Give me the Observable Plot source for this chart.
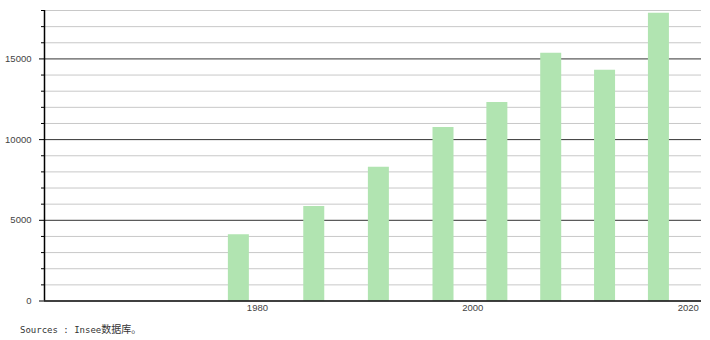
<!DOCTYPE html>
<html>
<head>
<meta charset="utf-8">
<script src="https://cdn.jsdelivr.net/npm/d3@7"></script>
<script src="https://cdn.jsdelivr.net/npm/@observablehq/plot@0.6"></script>
<style>
  body { margin: 0; background: #fff; }
  #caption { font-family: "DejaVu Sans Mono", "Liberation Mono", monospace; font-size: 9px; color: #333; margin: 5px 0 0 20px; line-height: 12px; }
  #caption .cjk { font-family: "Noto Sans CJK SC", sans-serif; font-size: 10px; }
</style>
</head>
<body>
<div id="chart"></div>
<div id="caption">Sources : Insee<span class="cjk">数据库。</span></div>
<script>
const years = [1978, 1985, 1991, 1997, 2002, 2007, 2012, 2017];
const values = [4100, 5850, 8280, 10750, 12300, 15350, 14300, 17830];
const xTicks = [1980, 2000, 2020];
const yMajor = [0, 5000, 10000, 15000];
const yMinor = d3.range(1000, 18001, 1000).filter(v => v % 5000 !== 0);

const data = years.map((year, i) => ({year, value: values[i]}));

const chart = Plot.plot({
  width: 710,
  height: 318,
  marginLeft: 44,
  marginRight: 9,
  marginTop: 10,
  marginBottom: 17.5,
  style: {fontFamily: "'Liberation Sans', Arial, sans-serif", fontSize: "9.5px", color: "#444", background: "#fff"},
  x: {type: "linear", domain: [1960, 2021], axis: null, label: null},
  y: {type: "linear", domain: [0, 18000], axis: null, label: null},
  marks: [
    Plot.ruleY(yMinor, {stroke: "#c8c8c8", strokeWidth: 1}),
    Plot.ruleY(yMajor.filter(v => v > 0), {stroke: "#333", strokeWidth: 1}),
    Plot.ruleX(data, {x: "year", y1: 0, y2: "value", stroke: "#b1e4b1", strokeWidth: 21}),
    Plot.axisY(yMajor, {tickSize: 5, tickPadding: 8, stroke: "#000", fill: "#444", label: null, tickFormat: d => String(d)}),
    Plot.axisY(yMinor, {tickSize: 3, text: null, stroke: "#000", label: null}),
    Plot.axisX(xTicks, {tickSize: 0, tickPadding: 3, dx: -2.5, fill: "#444", label: null, tickFormat: d => String(d)}),
    Plot.ruleX([1960], {stroke: "#000", strokeWidth: 1.5}),
    Plot.ruleY([0], {stroke: "#000", strokeWidth: 1.5})
  ]
});
document.getElementById("chart").appendChild(chart);
</script>
</body>
</html>
